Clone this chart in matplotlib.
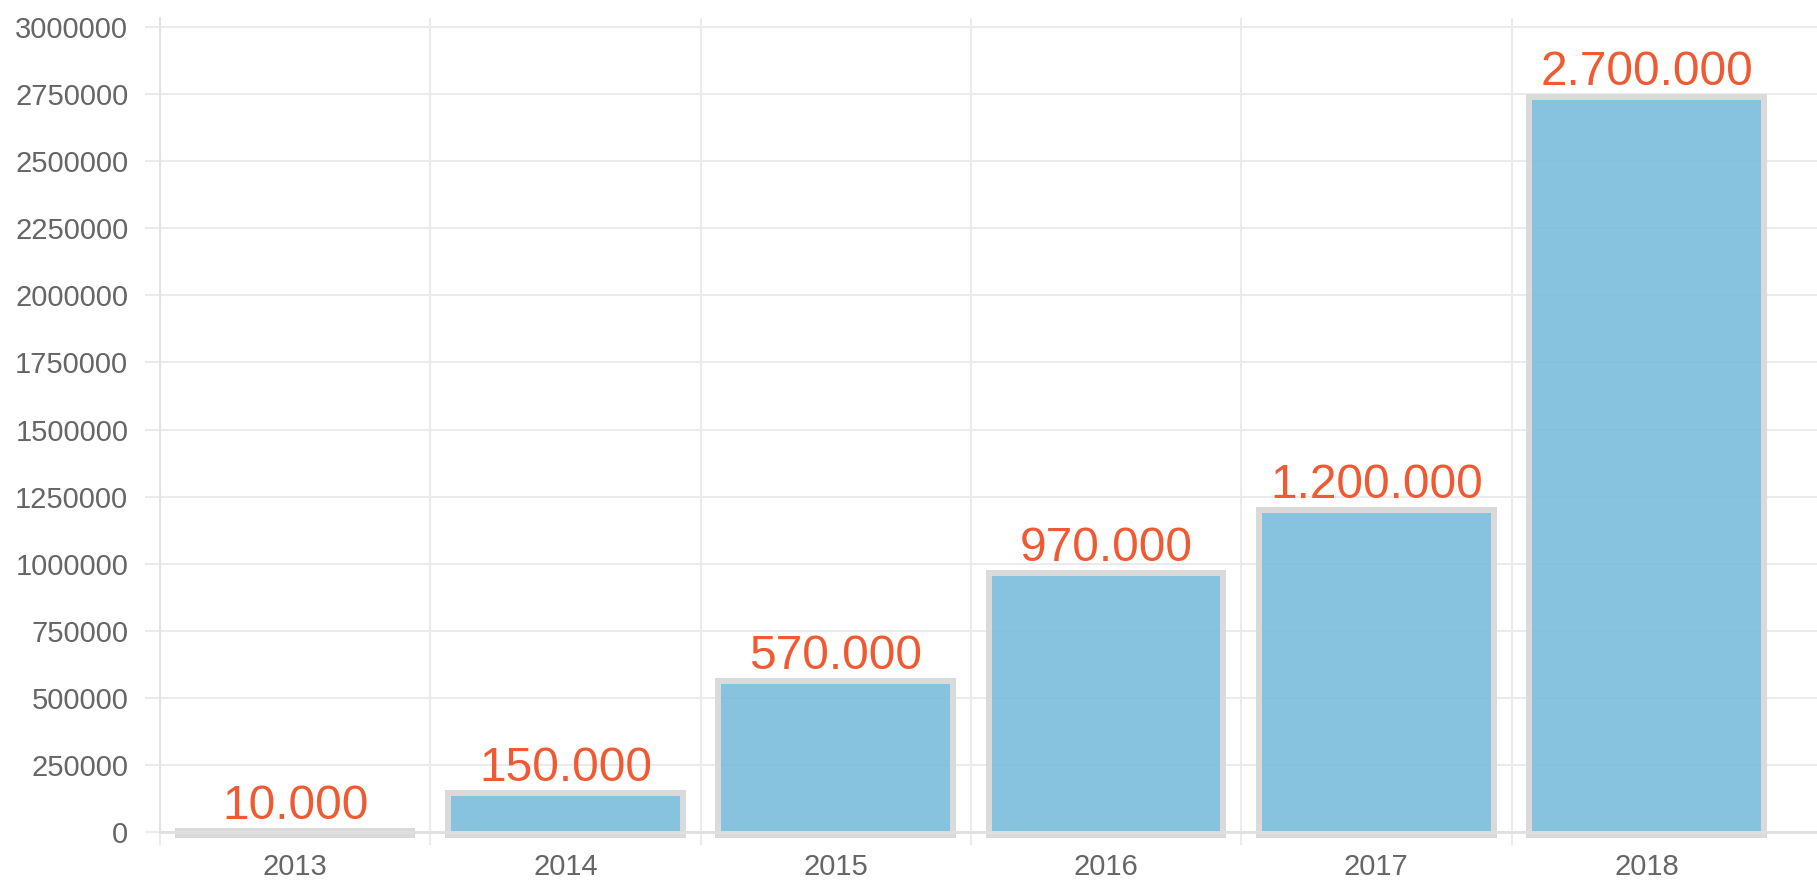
import matplotlib.pyplot as plt
import numpy as np

# data
years = ['2013', '2014', '2015', '2016', '2017', '2018']
bar_values = [14000, 155000, 575000, 975000, 1210000, 2750000]
bar_labels = ['10.000', '150.000', '570.000', '970.000', '1.200.000', '2.700.000']
y_ticks = list(range(0, 3000001, 250000))

grid_col = '#ebebeb'
text_col = '#666666'
label_col = '#f05a32'
font = ['Liberation Sans', 'DejaVu Sans']

fig = plt.figure(figsize=(18.17, 8.86), dpi=100)
ax = fig.add_axes([160 / 1817, 54 / 886, 1657 / 1817, 814 / 886])

x = np.arange(len(years))
ytop = 3000000 * 814 / 805
ax.set_ylim(0, ytop)
ax.set_xlim(-0.5, -0.5 + 1657 / 270.3)

# border is 6 px; bars start below zero so the bottom border is hidden
border = 6 * ytop / 814
bars = ax.bar(x, [v + border for v in bar_values], bottom=-border, width=0.89,
              facecolor=(0x7a / 255, 0xbc / 255, 0xdc / 255, 0.9),
              edgecolor='#dadada', linewidth=8.64, zorder=3)
for b in bars:
    b.set_clip_path(b)  # keeps only the inner half of the edge

for xi, v, lab in zip(x, bar_values, bar_labels):
    ax.annotate(lab, (xi, v), xytext=(0, 6.5), textcoords='offset points',
                ha='center', va='baseline', fontsize=34.5, color=label_col,
                family=font, zorder=4)

# grid
ax.set_yticks(y_ticks)
ax.set_yticklabels([str(t) for t in y_ticks])
ax.set_xticks(np.arange(-0.5, len(years) - 0.5, 1.0))
ax.set_xticklabels([])
ax.set_xticks(x, minor=True)
ax.set_xticklabels(years, minor=True)
ax.grid(True, which='major', color=grid_col, linewidth=1.5, zorder=0)
ax.set_axisbelow(True)

ax.tick_params(axis='y', length=10.8, width=1.5, color=grid_col, pad=12,
               labelsize=21, labelcolor=text_col)
ax.tick_params(axis='x', which='major', length=9.4, width=1.5, color=grid_col)
ax.tick_params(axis='x', which='minor', length=0, pad=15, labelsize=21,
               labelcolor=text_col)
for t in ax.get_yticklabels() + ax.get_xticklabels(minor=True):
    t.set_family(font)

for s in ['top', 'right']:
    ax.spines[s].set_visible(False)
ax.spines['left'].set_color('#e3e3e3')
ax.spines['left'].set_linewidth(1.5)
ax.spines['bottom'].set_color('#e0e0e0')
ax.spines['bottom'].set_linewidth(2)
ax.spines['bottom'].set_zorder(5)

fig.savefig('out.png', dpi=100)
